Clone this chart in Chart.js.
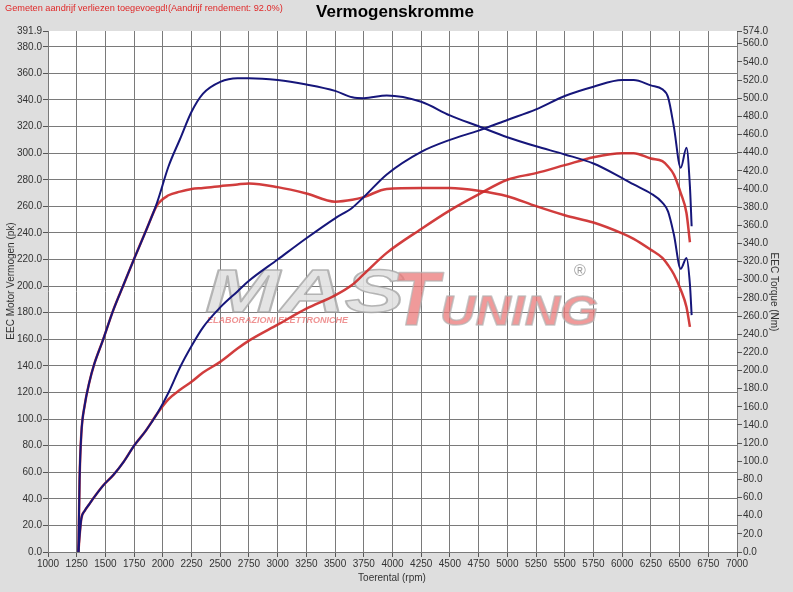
<!DOCTYPE html>
<html>
<head>
<meta charset="utf-8">
<title>Vermogenskromme</title>
<script src="https://cdn.jsdelivr.net/npm/chart.js@4.4.1/dist/chart.umd.min.js"></script>
<style>
    html, body { margin: 0; padding: 0; background: #dedede; }
    #wrap { position: relative; width: 793px; height: 592px; }
</style>
</head>
<body>
<div id="wrap"><canvas id="powerChart"></canvas></div>
<script>
var rpm = [1265, 1275, 1290, 1320, 1360, 1400, 1480, 1570, 1660, 1750, 1850, 1950, 2050, 2150, 2250, 2350,
    2500, 2650, 2750, 3000, 3250, 3500, 3650, 3750, 3950, 4250, 4500, 4750, 5000, 5250, 5500, 5750,
    6000, 6100, 6250, 6350, 6400, 6450, 6510, 6560, 6590, 6605];

// blauw = getuned, rood = origineel
var powerBlue = [0, 12, 25, 31, 36, 41, 50, 58, 68, 80, 91, 104, 120, 139, 155, 169,
    184, 196, 204, 220, 236, 251, 259, 267, 284, 301, 310, 317, 325, 333, 343, 350,
    355, 355, 351, 348, 342, 320, 289, 304, 275, 245];
var torqueBlue = [0, 80, 130, 162, 187, 206, 234, 267, 295, 323, 353, 385, 425, 455, 485, 505,
    518, 522, 522, 520, 515, 508, 501, 500, 503, 496, 481, 469, 457, 447, 438, 428,
    412, 405, 395, 385, 375, 350, 312, 324, 295, 261];
var powerRed = [0, 12, 25, 31, 36, 41, 50, 58, 68, 80, 91, 104, 115, 122, 128, 135,
    143, 153, 159, 171, 183, 193, 201, 209, 225, 243, 257, 269, 280, 285, 291, 297,
    300, 300, 296, 294, 290, 284, 270, 255, 233, null];
var torqueRed = [0, 80, 130, 162, 187, 206, 234, 267, 295, 323, 353, 382, 393, 397, 400, 401,
    403, 405, 406, 402, 395, 386, 388, 391, 400, 401, 401, 398, 392, 381, 371, 363,
    351, 345, 333, 324, 316, 306, 289, 270, 248, null];

var powerTicks = [0, 20, 40, 60, 80, 100, 120, 140, 160, 180, 200, 220, 240, 260, 280, 300,
    320, 340, 360, 380, 391.9];
var torqueTicks = [0, 20, 40, 60, 80, 100, 120, 140, 160, 180, 200, 220, 240, 260, 280, 300,
    320, 340, 360, 380, 400, 420, 440, 460, 480, 500, 520, 540, 560, 574];

var font = '"Liberation Sans", Arial, sans-serif';

function pts(ys) {
    return rpm.map(function (x, i) { return { x: x, y: ys[i] }; });
}

function fixed(list) {
    return function (scale) {
        scale.ticks = list.map(function (v) { return { value: v }; });
    };
}

// achtergrond, titels en watermerk
var decor = {
    id: 'decor',
    beforeDraw: function (chart) {
        var c = chart.ctx, a = chart.chartArea;
        c.save();
        c.fillStyle = '#ffffff';
        c.fillRect(a.left, a.top, a.right - a.left, a.bottom - a.top);
        c.restore();
    },
    beforeDatasetsDraw: function (chart) {
        var c = chart.ctx;
        c.save();
        c.lineJoin = 'round';
        // MAS
        c.save();
        c.translate(205, 312);
        c.scale(1.45, 1);
        c.font = 'italic bold 62px ' + font;
        c.fillStyle = 'rgba(225,225,225,0.9)';
        c.strokeStyle = 'rgba(165,165,165,0.8)';
        c.lineWidth = 1.5;
        c.fillText('MAS', 0, 0);
        c.strokeText('MAS', 0, 0);
        c.restore();
        // T
        c.save();
        c.translate(392, 325);
        c.font = 'italic bold 76px ' + font;
        c.fillStyle = 'rgba(235,120,120,0.75)';
        c.strokeStyle = 'rgba(180,180,180,0.7)';
        c.lineWidth = 1.5;
        c.fillText('T', 0, 0);
        c.strokeText('T', 0, 0);
        c.restore();
        // UNING
        c.save();
        c.translate(440, 325);
        c.scale(1.17, 1);
        c.font = 'italic bold 42px ' + font;
        c.fillStyle = 'rgba(235,120,120,0.75)';
        c.strokeStyle = 'rgba(180,180,180,0.7)';
        c.lineWidth = 1.5;
        c.fillText('UNING', 0, 0);
        c.strokeText('UNING', 0, 0);
        c.restore();
        c.font = 'italic bold 9px ' + font;
        c.fillStyle = 'rgba(235,120,120,0.8)';
        c.fillText('ELABORAZIONI ELETTRONICHE', 207, 323);
        c.font = '16px ' + font;
        c.fillStyle = 'rgba(150,150,150,0.9)';
        c.fillText('\u00AE', 574, 276);
        c.restore();
    },
    afterDraw: function (chart) {
        var c = chart.ctx;
        c.save();
        c.textBaseline = 'middle';
        c.fillStyle = '#e02828';
        c.font = '9.2px ' + font;
        c.textAlign = 'left';
        c.fillText('Gemeten aandrijf verliezen toegevoegd!(Aandrijf rendement: 92.0%)', 5, 8);
        c.fillStyle = '#000000';
        c.font = 'bold 17px ' + font;
        c.textAlign = 'center';
        c.fillText('Vermogenskromme', 395, 12);
        c.fillStyle = '#333333';
        c.font = '10px ' + font;
        c.fillText('Toerental (rpm)', 392, 578);
        c.save();
        c.translate(11, 281);
        c.rotate(-Math.PI / 2);
        c.fillText('EEC Motor Vermogen (pk)', 0, 0);
        c.restore();
        c.save();
        c.translate(774, 292);
        c.rotate(Math.PI / 2);
        c.fillText('EEC Torque (Nm)', 0, 0);
        c.restore();
        c.restore();
    }
};

var ctx = document.getElementById('powerChart').getContext('2d');
var powerChart = new Chart(ctx, {
    type: 'line',
    data: {
        datasets: [{
            label: 'Vermogen getuned',
            data: pts(powerBlue),
            yAxisID: 'yPower',
            borderColor: '#16167a',
            borderWidth: 2
        }, {
            label: 'Koppel getuned',
            data: pts(torqueBlue),
            yAxisID: 'yTorque',
            borderColor: '#16167a',
            borderWidth: 2
        }, {
            label: 'Vermogen origineel',
            data: pts(powerRed),
            yAxisID: 'yPower',
            borderColor: 'rgba(204,40,40,0.9)',
            borderWidth: 2.5
        }, {
            label: 'Koppel origineel',
            data: pts(torqueRed),
            yAxisID: 'yTorque',
            borderColor: 'rgba(204,40,40,0.9)',
            borderWidth: 2.5
        }]
    },
    options: {
        responsive: true,
        maintainAspectRatio: false,
        animation: false,
        layout: { padding: { top: 31, left: 0, right: 0, bottom: 0 } },
        elements: {
            point: { radius: 0 },
            line: { cubicInterpolationMode: 'monotone', fill: false }
        },
        plugins: {
            legend: { display: false },
            tooltip: { enabled: false },
            title: { display: false }
        },
        scales: {
            x: {
                type: 'linear',
                min: 1000,
                max: 7000,
                border: { display: false },
                grid: { color: '#7a7a7a', lineWidth: 1, tickLength: 5, tickColor: '#555' },
                ticks: {
                    stepSize: 250,
                    maxRotation: 0,
                    autoSkip: false,
                    padding: 1,
                    color: '#333',
                    font: { family: font, size: 10 },
                    callback: function (v) { return String(v); }
                },
                afterFit: function (s) { s.height = 40; }
            },
            yPower: {
                type: 'linear',
                position: 'left',
                min: 0,
                max: 391.9,
                border: { display: false },
                afterBuildTicks: fixed(powerTicks),
                grid: {
                    tickLength: 5,
                    tickColor: '#555',
                    color: function (c) {
                        return c.tick && c.tick.value > 385 ? 'rgba(0,0,0,0)' : '#7a7a7a';
                    }
                },
                ticks: {
                    padding: 1,
                    color: '#333',
                    font: { family: font, size: 10 },
                    callback: function (v) { return v.toFixed(1); }
                },
                afterFit: function (s) { s.width = 48; }
            },
            yTorque: {
                type: 'linear',
                position: 'right',
                min: 0,
                max: 574,
                border: { display: false },
                afterBuildTicks: fixed(torqueTicks),
                grid: { drawOnChartArea: false, tickLength: 5, tickColor: '#555' },
                ticks: {
                    padding: 1,
                    color: '#333',
                    font: { family: font, size: 10 },
                    callback: function (v) { return v.toFixed(1); }
                },
                afterFit: function (s) { s.width = 56; }
            }
        }
    },
    plugins: [decor]
});
</script>
</body>
</html>
